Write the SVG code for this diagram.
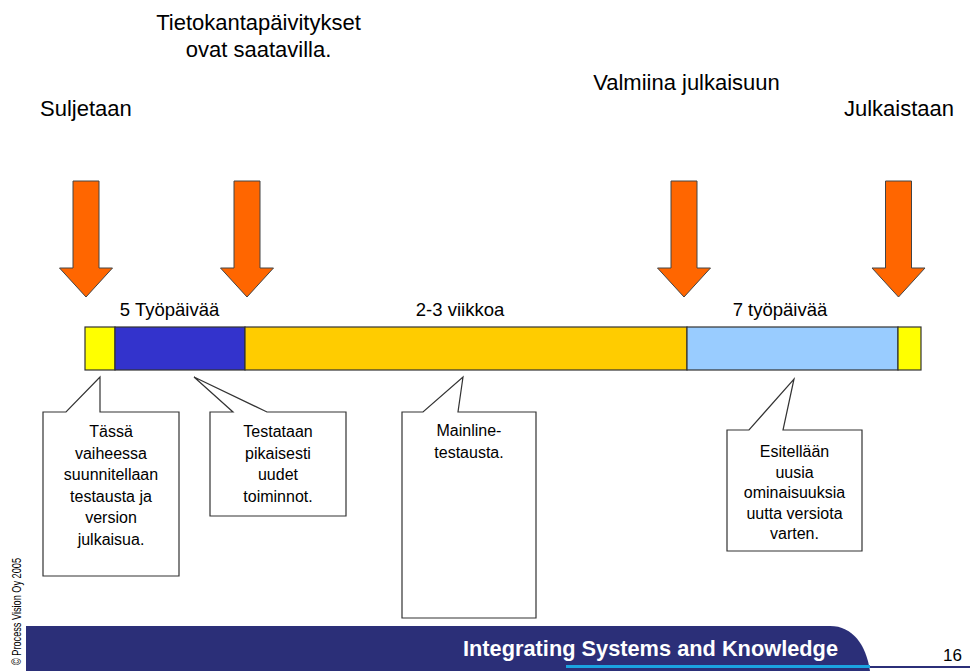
<svg xmlns="http://www.w3.org/2000/svg" width="970" height="671" viewBox="0 0 970 671">
<defs>
<style>
.t{font-family:"Liberation Sans",Arial,sans-serif;fill:#000}
.top{font-size:22px}
.lbl{font-size:18.5px;text-anchor:middle}
.co{font-size:16px;text-anchor:middle}
.arrow{fill:#FF6600;stroke:#444;stroke-width:1}
.seg{stroke:#333;stroke-width:1.2}
.call{fill:#fff;stroke:#333;stroke-width:1.2;stroke-linejoin:miter}
</style>
<path id="arr" d="M-13,0 H13 V87 H26.5 L0,116 L-26.5,87 H-13 Z"/>
</defs>
<rect width="970" height="671" fill="#fff"/>

<g id="top-labels">
<text class="t top" x="258.5" y="30" text-anchor="middle">Tietokantapäivitykset</text>
<text class="t top" x="258.5" y="57" text-anchor="middle">ovat saatavilla.</text>
<text class="t top" x="40" y="116">Suljetaan</text>
<text class="t top" x="686.5" y="90" text-anchor="middle">Valmiina julkaisuun</text>
<text class="t top" x="954" y="116" text-anchor="end">Julkaistaan</text>
</g>

<g id="arrows">
<use href="#arr" class="arrow" x="86" y="181"/>
<use href="#arr" class="arrow" x="247" y="181"/>
<use href="#arr" class="arrow" x="684" y="181"/>
<use href="#arr" class="arrow" x="898.5" y="181"/>
</g>

<g id="bar-labels">
<text class="t lbl" x="169.5" y="316">5 Työpäivää</text>
<text class="t lbl" x="460" y="316">2-3 viikkoa</text>
<text class="t lbl" x="780" y="316">7 työpäivää</text>
</g>

<g id="timeline">
<rect class="seg" x="85" y="327" width="30" height="43" fill="#FFFF00"/>
<rect class="seg" x="115" y="327" width="130" height="43" fill="#3333CC"/>
<rect class="seg" x="245" y="327" width="442" height="43" fill="#FFCC00"/>
<rect class="seg" x="687" y="327" width="211" height="43" fill="#99CCFF"/>
<rect class="seg" x="898" y="327" width="23" height="43" fill="#FFFF00"/>
</g>

<g id="callout1">
<path class="call" d="M43,412 H66 L100,377 L100,412 H179 V576 H43 Z"/>
<text class="t co" x="111" y="437">Tässä</text>
<text class="t co" x="111" y="458.5">vaiheessa</text>
<text class="t co" x="111" y="480">suunnitellaan</text>
<text class="t co" x="111" y="501.5">testausta ja</text>
<text class="t co" x="111" y="523">version</text>
<text class="t co" x="111" y="544.5">julkaisua.</text>
</g>

<g id="callout2">
<path class="call" d="M210,412 H233 L194,377 L267,412 H346 V516 H210 Z"/>
<text class="t co" x="278" y="437">Testataan</text>
<text class="t co" x="278" y="458.5">pikaisesti</text>
<text class="t co" x="278" y="480">uudet</text>
<text class="t co" x="278" y="501.5">toiminnot.</text>
</g>

<g id="callout3">
<path class="call" d="M402,412 H423 L463,377 L458,412 H536 V618 H402 Z"/>
<text class="t co" x="469" y="436">Mainline-</text>
<text class="t co" x="469" y="458">testausta.</text>
</g>

<g id="callout4">
<path class="call" d="M727,430 H749 L794,379 L783,430 H862 V551 H727 Z"/>
<text class="t co" x="794.5" y="457">Esitellään</text>
<text class="t co" x="794.5" y="477.5">uusia</text>
<text class="t co" x="794.5" y="498">ominaisuuksia</text>
<text class="t co" x="794.5" y="518.5">uutta versiota</text>
<text class="t co" x="794.5" y="539">varten.</text>
</g>

<g id="footer">
<path d="M26,626 H830 C853,626 866,645 870,671 H26 Z" fill="#2B2F78"/>
<rect x="566" y="665" width="304" height="3" fill="#1BA3E0"/>
<rect x="870" y="666" width="100" height="2" fill="#2B2F78"/>
<text x="463" y="656" font-family="'Liberation Sans',Arial,sans-serif" font-weight="bold" font-size="21.5" fill="#fff" textLength="375" lengthAdjust="spacingAndGlyphs">Integrating Systems and Knowledge</text>
<text x="943" y="661" font-family="'Liberation Sans',Arial,sans-serif" font-size="17" fill="#000">16</text>
<text transform="translate(21,665) rotate(-90)" font-family="'Liberation Sans',Arial,sans-serif" font-size="12" fill="#000" textLength="107" lengthAdjust="spacingAndGlyphs">© Process Vision Oy 2005</text>
</g>
</svg>
